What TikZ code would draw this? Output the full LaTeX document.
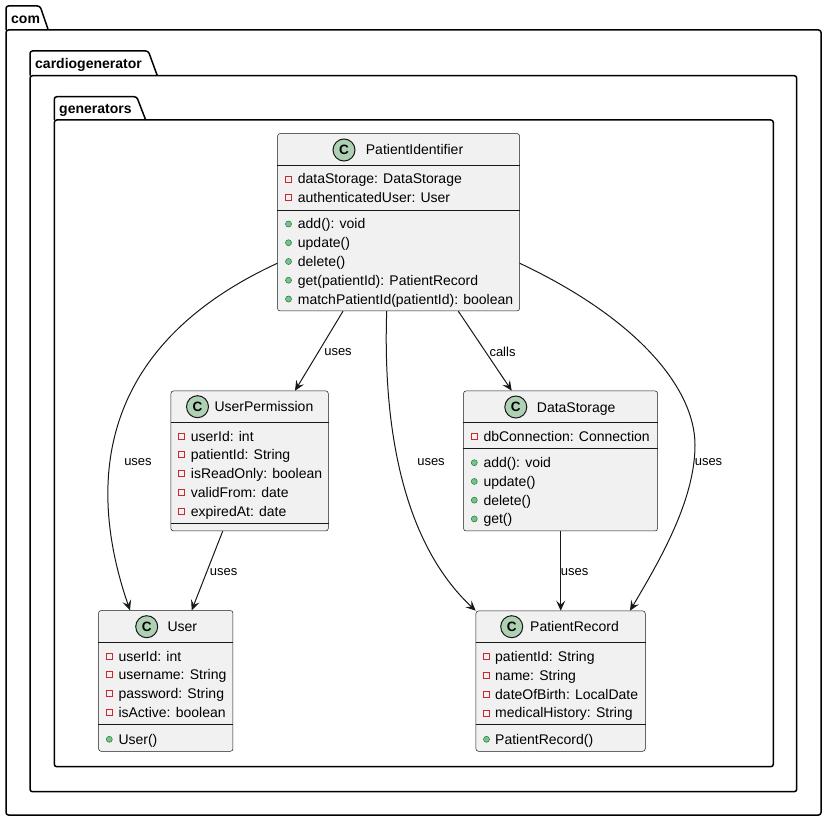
\documentclass[tikz,border=0pt]{standalone}
\usepackage{fontspec}
\setmainfont{Liberation Sans}
\usetikzlibrary{arrows.meta}
\definecolor{boxfill}{HTML}{F1F1F1}
\definecolor{ink}{HTML}{181818}
\definecolor{spotfill}{HTML}{ADD1B2}
\definecolor{privred}{HTML}{C82930}
\definecolor{pubfill}{HTML}{84BE84}
\definecolor{publine}{HTML}{038048}
\tikzset{
  cls/.style     = {shape=rectangle, rounded corners=2.5pt, draw=ink,
                    line width=0.5pt, fill=boxfill, anchor=north west,
                    inner sep=0pt},
  spot/.style    = {circle, draw=ink, line width=1pt, fill=spotfill,
                    minimum size=22pt, inner sep=0pt,
                    font=\fontsize{13.5}{13.5}\selectfont\bfseries},
  member/.style  = {anchor=west, inner sep=0pt, text height=10pt,
                    text depth=0pt, font=\fontsize{14}{16}\selectfont},
  priv/.style    = {rectangle, draw=privred, line width=0.8pt,
                    minimum size=6pt, inner sep=0pt},
  pub/.style     = {circle, draw=publine, line width=0.5pt, fill=pubfill,
                    minimum size=6pt, inner sep=0pt},
  sep/.style     = {draw=ink, line width=0.5pt},
  pkg/.style     = {draw=black, line width=1.5pt, rounded corners=2.5pt},
  pkgname/.style = {anchor=west, inner sep=0pt, text height=10pt,
                    text depth=0pt, font=\fontsize{14}{16}\selectfont\bfseries},
  dep/.style     = {draw=ink, line width=1pt,
                    -{Stealth[length=10pt, width=9pt, inset=4pt]}},
  lbl/.style     = {inner sep=0pt, font=\fontsize{13}{15}\selectfont}
}
\begin{document}
\begin{tikzpicture}[x=1pt, y=-1pt]
  \useasboundingbox (0,0) rectangle (827,821);
  \fill[white] (0,0) rectangle (827,821);

  % packages
  \draw[pkg] (6,30) rectangle (821,815);
  \draw[pkg] (6,30) -- (6,6) -- (40,6) -- (48.3,30);
  \node[pkgname] (comN) at (11,18.3) {com};
  \draw[pkg] (30,75.7) rectangle (796.7,791.7);
  \draw[pkg] (30,75.7) -- (30,51) -- (148.3,51) -- (157.3,75.7);
  \node[pkgname] (cardioN) at (35,63.3) {cardiogenerator};
  \draw[pkg] (54.3,120) rectangle (773.3,766.7);
  \draw[pkg] (54.3,120) -- (54.3,96.7) -- (136.7,96.7) -- (145.7,120);
  \node[pkgname] (genN) at (59,108.3) {generators};

  % PatientIdentifier
  \node[cls, minimum width=242pt, minimum height=177.4pt] (pid) at (277.3,133.3) {};
  \node[spot] (pidC) at (344,150) {C};
  \node[member] (pidN) at (365.7,150) {PatientIdentifier};
  \draw[sep] ([yshift=-32.4pt]pid.north west) -- ([yshift=-32.4pt]pid.north east);
  \draw[sep] ([yshift=-77.4pt]pid.north west) -- ([yshift=-77.4pt]pid.north east);
  \foreach \t [count=\i from 0] in {dataStorage: DataStorage, authenticatedUser: User} {
    \node[priv] (pidp\i) at (288.5,179+18.7*\i) {};
    \node[member] (pida\i) at (297.7,179+18.7*\i) {\t};
  }
  \foreach \t [count=\i from 0] in {add(): void, update(), delete(),
      get(patientId): PatientRecord, matchPatientId(patientId): boolean} {
    \node[pub] (pidq\i) at (288.5,224+18.75*\i) {};
    \node[member] (pidm\i) at (297.7,224+18.75*\i) {\t};
  }

  % UserPermission
  \node[cls, minimum width=157.3pt, minimum height=140pt] (upm) at (170.7,390.7) {};
  \node[spot] (upmC) at (197.5,406.7) {C};
  \node[member] (upmN) at (214.3,406.7) {UserPermission};
  \draw[sep] ([yshift=-31.6pt]upm.north west) -- ([yshift=-31.6pt]upm.north east);
  \draw[sep] ([yshift=-132.6pt]upm.north west) -- ([yshift=-132.6pt]upm.north east);
  \foreach \t [count=\i from 0] in {userId: int, patientId: String,
      isReadOnly: boolean, validFrom: date, expiredAt: date} {
    \node[priv] (upmp\i) at (181.7,436+18.75*\i) {};
    \node[member] (upma\i) at (190.7,436+18.75*\i) {\t};
  }

  % DataStorage
  \node[cls, minimum width=194pt, minimum height=140pt] (dst) at (463.3,390.7) {};
  \node[spot] (dstC) at (515.8,407) {C};
  \node[member] (dstN) at (536.7,407) {DataStorage};
  \draw[sep] ([yshift=-31.6pt]dst.north west) -- ([yshift=-31.6pt]dst.north east);
  \draw[sep] ([yshift=-57.6pt]dst.north west) -- ([yshift=-57.6pt]dst.north east);
  \node[priv] (dstp0) at (474.3,436) {};
  \node[member] (dsta0) at (483.3,436) {dbConnection: Connection};
  \foreach \t [count=\i from 0] in {add(): void, update(), delete(), get()} {
    \node[pub] (dstq\i) at (474.3,462.7+18.75*\i) {};
    \node[member] (dstm\i) at (483.3,462.7+18.75*\i) {\t};
  }

  % User
  \node[cls, minimum width=134.4pt, minimum height=140.7pt] (usr) at (98.3,610.3) {};
  \node[spot] (usrC) at (146.7,626.7) {C};
  \node[member] (usrN) at (167.3,626.7) {User};
  \draw[sep] ([yshift=-32pt]usr.north west) -- ([yshift=-32pt]usr.north east);
  \draw[sep] ([yshift=-114pt]usr.north west) -- ([yshift=-114pt]usr.north east);
  \foreach \t [count=\i from 0] in {userId: int, username: String,
      password: String, isActive: boolean} {
    \node[priv] (usrp\i) at (109.3,656+18.75*\i) {};
    \node[member] (usra\i) at (118.3,656+18.75*\i) {\t};
  }
  \node[pub] (usrq0) at (109.3,739.3) {};
  \node[member] (usrm0) at (118.3,739.3) {User()};

  % PatientRecord
  \node[cls, minimum width=169.3pt, minimum height=140.3pt] (prc) at (475.7,610.7) {};
  \node[spot] (prcC) at (511.7,626.7) {C};
  \node[member] (prcN) at (530,626.7) {PatientRecord};
  \draw[sep] ([yshift=-31.6pt]prc.north west) -- ([yshift=-31.6pt]prc.north east);
  \draw[sep] ([yshift=-113.6pt]prc.north west) -- ([yshift=-113.6pt]prc.north east);
  \foreach \t [count=\i from 0] in {patientId: String, name: String,
      dateOfBirth: LocalDate, medicalHistory: String} {
    \node[priv] (prcp\i) at (486.5,656.7+18.75*\i) {};
    \node[member] (prca\i) at (495,656.7+18.75*\i) {\t};
  }
  \node[pub] (prcq0) at (486.5,739.3) {};
  \node[member] (prcm0) at (495,739.3) {PatientRecord()};

  % dependencies
  \coordinate (rbend) at (695,445);
  \draw[dep] ([yshift=-130pt]pid.north west) .. controls (100,345) and (85,480)
    .. ([xshift=31.7pt]usr.north west);
  \draw[dep] ([xshift=65.7pt]pid.south west) -- ([xshift=124.3pt]upm.north west);
  \draw[dep] ([xshift=109.4pt]pid.south west) .. controls (383,420) and (400,540)
    .. (prc.north west);
  \draw[dep] ([xshift=181pt]pid.south west) -- ([xshift=48.4pt]dst.north west);
  \draw[dep] ([yshift=-130pt]pid.north east) .. controls (640,320) and (695,390)
    .. (rbend) .. controls (695,500) and (660,560) .. ([xshift=154.3pt]prc.north west);
  \draw[dep] ([xshift=52pt]upm.south west) -- ([xshift=93.4pt]usr.north west);
  \draw[dep] ([xshift=97.4pt]dst.south west) -- ([xshift=85pt]prc.north west);

  \node[lbl] (l1) at (138,462) {uses};
  \node[lbl] (l2) at (338,352) {uses};
  \node[lbl] (l3) at (502.5,352) {calls};
  \node[lbl] (l4) at (431,462) {uses};
  \node[lbl] (l5) at (708.5,462) {uses};
  \node[lbl] (l6) at (223.7,572) {uses};
  \node[lbl] (l7) at (574.7,572) {uses};
\end{tikzpicture}
\end{document}
